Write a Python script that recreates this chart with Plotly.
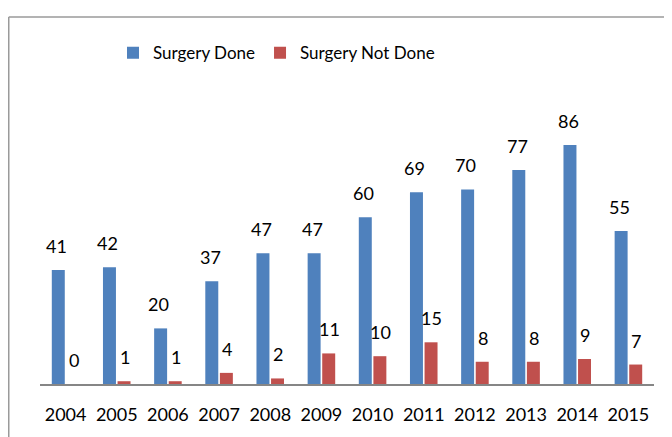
import plotly.graph_objects as go

years = ["2004", "2005", "2006", "2007", "2008", "2009", "2010", "2011", "2012", "2013", "2014", "2015"]
surgery_done = [41, 42, 20, 37, 47, 47, 60, 69, 70, 77, 86, 55]
surgery_not_done = [0, 1, 1, 4, 2, 11, 10, 15, 8, 8, 9, 7]

BLUE = "#4F81BD"
RED = "#C0504D"
FONT = "Lato, 'Open Sans', sans-serif"

W, H = 664, 429
ML, MR, MT, MB = 32, 18, 98, 47
PW = W - ML - MR
PH = H - MT - MB

fig = go.Figure()
fig.add_trace(go.Bar(x=years, y=surgery_done, name="Surgery Done",
                     marker=dict(color=BLUE, line=dict(width=0))))
fig.add_trace(go.Bar(x=years, y=surgery_not_done, name="Surgery Not Done",
                     marker=dict(color=RED, line=dict(width=0))))

# category axis: annotation x given as the category index
for i, v in enumerate(surgery_done):
    fig.add_annotation(x=i, y=v, text=str(v), showarrow=False, xshift=-9, yshift=24,
                       yanchor="middle", font=dict(family=FONT, size=18, color="#000"))
for i, v in enumerate(surgery_not_done):
    fig.add_annotation(x=i, y=v, text=str(v), showarrow=False, xshift=8, yshift=24,
                       yanchor="middle", font=dict(family=FONT, size=18, color="#000"))

def px_x(p):
    return (p - ML) / PW

def px_y(p):
    return (H - MB - p) / PH

fig.add_shape(type="line", xref="paper", yref="paper",
              x0=px_x(0.75), x1=px_x(680), y0=px_y(7), y1=px_y(7),
              line=dict(color="#9a9a9a", width=1.5))
fig.add_shape(type="line", xref="paper", yref="paper",
              x0=px_x(0.75), x1=px_x(0.75), y0=px_y(7), y1=px_y(445),
              line=dict(color="#9a9a9a", width=1.5))

fig.update_layout(
    width=W, height=H,
    margin=dict(l=ML, r=MR, t=MT, b=MB, pad=0),
    paper_bgcolor="white", plot_bgcolor="white",
    barmode="group", bargap=0.43, bargroupgap=0.11,
    font=dict(family=FONT, size=18, color="#000"),
    showlegend=True,
    legend=dict(orientation="h", x=px_x(105), xanchor="left", y=px_y(44), yanchor="middle",
                font=dict(family=FONT, size=17, color="#000"),
                itemwidth=30, traceorder="normal", bgcolor="rgba(0,0,0,0)"),
    xaxis=dict(type="category", range=[-0.5, len(years) - 0.5],
               showline=True, linecolor="#868686", linewidth=2, ticks="",
               tickfont=dict(family=FONT, size=18, color="#000"), ticklabelstandoff=13,
               showgrid=False, zeroline=False),
    yaxis=dict(range=[0, 100], visible=False, showgrid=False, zeroline=False),
)

fig.write_html("out.html")
